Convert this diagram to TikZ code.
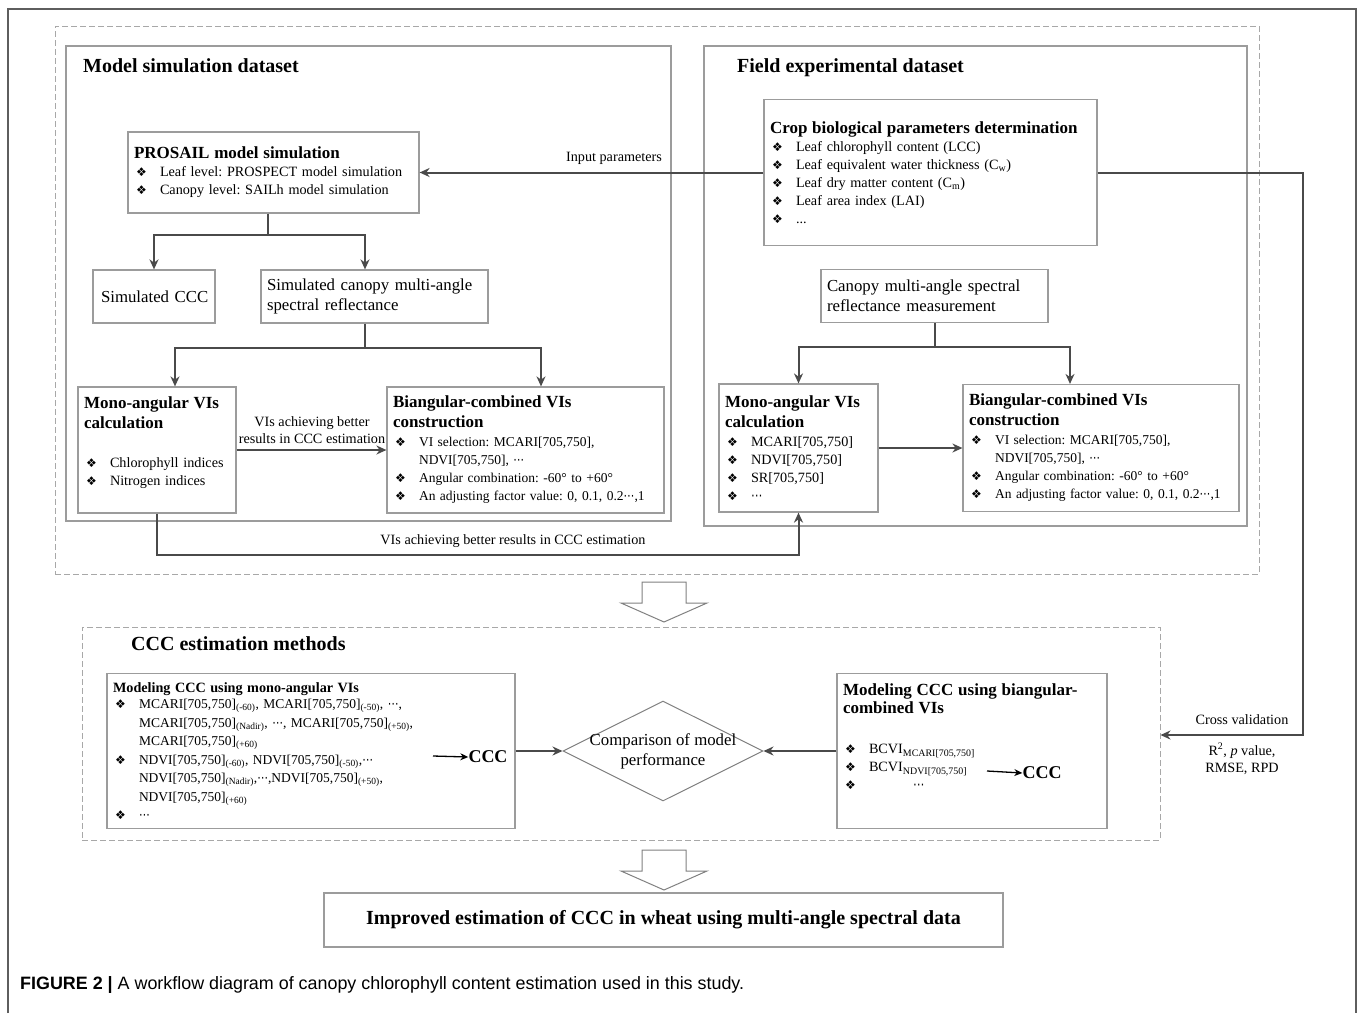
\documentclass[tikz,border=0pt]{standalone}
\usepackage{fontspec}
\setmainfont{Liberation Serif}
\newfontfamily\symf{DejaVu Sans}
\newfontfamily\capf{Liberation Sans}
\usetikzlibrary{arrows.meta,shapes.geometric}
\definecolor{boxgray}{HTML}{9C9C9C}
\definecolor{dashgray}{HTML}{A8A8A8}
\definecolor{linegray}{HTML}{4A4A4A}
\definecolor{framegray}{HTML}{5E5E5E}
\frenchspacing
\newcommand{\itm}{\makebox[26pt][l]{\hspace{2pt}{\symf\fontsize{12}{12}\selectfont ❖}}}
\newcommand{\cont}{\hspace*{26pt}}
\newcommand{\mdots}{{\symf\scalebox{0.8}[1]{⋯}}}
\newcommand{\boxtf}{\fontsize{17}{20}\selectfont\bfseries}

\begin{document}
\begin{tikzpicture}[x=1pt,y=-1pt,>={Stealth[length=10pt,width=9pt]},
  plainbox/.style={draw=boxgray,line width=1.2pt,fill=white,align=left,inner xsep=6pt,inner ysep=0pt,font=\fontsize{14.2}{18}\selectfont},
  dashframe/.style={draw=dashgray,line width=1pt,dash pattern=on 6pt off 3pt},
  solidframe/.style={draw=boxgray,line width=1.2pt},
  conn/.style={draw=linegray,line width=2pt},
  smallconn/.style={draw=black,line width=1.3pt,-{Stealth[length=8pt,width=7pt]}},
  sectitle/.style={font=\fontsize{20}{24}\selectfont\bfseries,inner sep=0pt,anchor=base west},
  lbl/.style={font=\fontsize{14.2}{17.5}\selectfont,align=center,inner sep=0pt},
  bigtxt/.style={font=\fontsize{16.8}{20}\selectfont},
  hollow/.style={draw=gray,fill=white,line width=1pt}]
\useasboundingbox (0,0) rectangle (1358,1013);
\draw[framegray,line width=1.5pt] (8,1013) -- (8,9) -- (1356,9) -- (1356,1013);

\node[dashframe,minimum width=1204,minimum height=548] (dataframe) at (657,300) {};
\node[solidframe,minimum width=605,minimum height=475] (msim) at (368.5,283.5) {};
\node[solidframe,minimum width=543,minimum height=480] (fexp) at (975.5,286) {};
\node[sectitle] (msimtitle) at (83,72) {Model simulation dataset};
\node[sectitle] (fexptitle) at (737,72) {Field experimental dataset};

\node[plainbox,text width=279,minimum height=81] (prosail) at (273.5,172.5)
  {{\boxtf PROSAIL model simulation}\\
   \itm Leaf level: PROSPECT model simulation\\
   \itm Canopy level: SAILh model simulation};
\node[plainbox,bigtxt,text width=110,minimum height=53] (simccc) at (154,296.5) {\hspace*{2pt}Simulated CCC};
\node[plainbox,bigtxt,text width=215,minimum height=53] (simcan) at (374.5,296.5)
  {Simulated canopy multi-angle\\spectral reflectance};
\node[plainbox,text width=146,minimum height=126] (monoL) at (157,450)
  {{\boxtf Mono-angular VIs}\\[2pt]
   {\boxtf calculation}\\[21pt]
   \itm Chlorophyll indices\\
   \itm Nitrogen indices\\ \mbox{}};
\node[plainbox,font=\fontsize{13.5}{18}\selectfont,text width=265,minimum height=126] (bioL) at (525.5,450)
  {{\boxtf Biangular-combined VIs}\\[2pt]
   {\boxtf construction}\\[1pt]
   \itm VI selection: MCARI[705,750],\\
   \cont NDVI[705,750], \mdots\\
   \itm Angular combination: -60° to +60°\\
   \itm An adjusting factor value: 0, 0.1, 0.2\mdots,1};

\node[plainbox,text width=321,minimum height=146] (crop) at (930.5,172.5)
  {{\boxtf Crop biological parameters determination}\\
   \itm Leaf chlorophyll content (LCC)\\
   \itm Leaf equivalent water thickness (C\textsubscript{w})\\
   \itm Leaf dry matter content (C\textsubscript{m})\\
   \itm Leaf area index (LAI)\\
   \itm ...};
\node[plainbox,bigtxt,text width=215,minimum height=53] (canmeas) at (934.5,296)
  {Canopy multi-angle spectral\\reflectance measurement};
\node[plainbox,text width=147,minimum height=128] (monoR) at (798.5,448)
  {{\boxtf Mono-angular VIs}\\[2pt]
   {\boxtf calculation}\\[1pt]
   \itm MCARI[705,750]\\
   \itm NDVI[705,750]\\
   \itm SR[705,750]\\
   \itm \mdots};
\node[plainbox,font=\fontsize{13.5}{18}\selectfont,text width=264,minimum height=127] (bioR) at (1101,448)
  {{\boxtf Biangular-combined VIs}\\[2pt]
   {\boxtf construction}\\[1pt]
   \itm VI selection: MCARI[705,750],\\
   \cont NDVI[705,750], \mdots\\
   \itm Angular combination: -60° to +60°\\
   \itm An adjusting factor value: 0, 0.1, 0.2\mdots,1};

\draw[conn,->] (crop.west) -- (prosail.east);
\node[lbl] (inlbl) at (614,158) {Input parameters};
\coordinate (psplit) at (268,235);
\draw[conn] (psplit |- prosail.south) -- (psplit);
\draw[conn,->] (psplit) -| (simccc.north);
\draw[conn,->] (psplit) -| ([xshift=-9.5pt]simcan.north);
\coordinate (ssplit) at (365,348);
\draw[conn] (ssplit |- simcan.south) -- (ssplit);
\draw[conn,->] (ssplit) -| ([xshift=18pt]monoL.north);
\draw[conn,->] (ssplit) -| ([xshift=15.5pt]bioL.north);
\draw[conn,->] (monoL.east) -- (bioL.west);
\node[lbl] (vislbl) at (312,430) {VIs achieving better\\results in CCC estimation};
\coordinate (msplit) at (934.5,347);
\draw[conn] (canmeas.south) -- (msplit);
\draw[conn,->] (msplit) -| (monoR.north);
\draw[conn,->] (msplit) -| ([xshift=-31pt]bioR.north);
\draw[conn,->] (monoR.east) -- (bioR.west);
\draw[conn,->] (monoL.south) -- ++(0,41) -| (monoR.south);
\node[lbl] (vislbl2) at (513,541) {VIs achieving better results in CCC estimation};

\draw[hollow] (642,582) -- (686,582) -- (686,603) -- (707,603) -- (664,622) -- (621,603) -- (642,603) -- cycle;

\node[dashframe,minimum width=1078,minimum height=213] (cccframe) at (621,733.5) {};
\node[sectitle] (ccctitle) at (131,650) {CCC estimation methods};
\node[plainbox,font=\fontsize{13.5}{18.5}\selectfont,text width=396,minimum height=155] (monomod) at (311,751)
  {{\fontsize{14.2}{17}\selectfont\bfseries Modeling CCC using mono-angular VIs}\\[-2pt]
   \itm MCARI[705,750]\textsubscript{(-60)}, MCARI[705,750]\textsubscript{(-50)}, \mdots,\\
   \cont MCARI[705,750]\textsubscript{(Nadir)}, \mdots, MCARI[705,750]\textsubscript{(+50)},\\
   \cont MCARI[705,750]\textsubscript{(+60)}\\
   \itm NDVI[705,750]\textsubscript{(-60)}, NDVI[705,750]\textsubscript{(-50)},\mdots\\
   \cont NDVI[705,750]\textsubscript{(Nadir)},\mdots,NDVI[705,750]\textsubscript{(+50)},\\
   \cont NDVI[705,750]\textsubscript{(+60)}\\
   \itm \mdots};
\node[font=\fontsize{18}{20}\selectfont\bfseries,inner sep=0pt] (cccA) at (488,757) {CCC};
\coordinate (cccAin) at (433,756);
\draw[smallconn] (cccAin) -- (cccA.west);
\node[diamond,draw=gray,line width=1pt,minimum width=200,minimum height=100,inner sep=0pt] (cmp) at (663,751) {};
\node[bigtxt,align=center] (cmptxt) at (663,751) {Comparison of model\\performance};
\node[plainbox,text width=258,minimum height=155] (biamod) at (972,751)
  {{\boxtf Modeling CCC using biangular-}\\
   {\boxtf combined VIs}\\[22pt]
   \itm BCVI\textsubscript{MCARI[705,750]}\\
   \itm BCVI\textsubscript{NDVI[705,750]}\\
   \itm\hspace*{44pt}\mdots\\[10pt] \mbox{}};
\node[font=\fontsize{18}{20}\selectfont\bfseries,inner sep=0pt] (cccB) at (1042,773) {CCC};
\coordinate (cccBin) at (987,771);
\draw[smallconn] (cccBin) -- (cccB.west);
\draw[conn,->] (monomod.east) -- (cmp.west);
\draw[conn,->] (biamod.west) -- (cmp.east);

\coordinate (cvturn) at (1303,735);
\draw[conn,->] (crop.east) -| (cvturn) -- (cvturn -| cccframe.east);
\node[lbl] (cvlbl) at (1242,720) {Cross validation};
\node[lbl] (statlbl) at (1242,759) {R\textsuperscript{2}, \textit{p} value,\\RMSE, RPD};

\draw[hollow] (642,850) -- (686,850) -- (686,871) -- (707,871) -- (664,890) -- (621,871) -- (642,871) -- cycle;
\node[plainbox,minimum width=679,minimum height=54,align=center,font=\fontsize{20}{24}\selectfont\bfseries] (final) at (663.5,920)
  {Improved estimation of CCC in wheat using multi-angle spectral data};

\node[anchor=west,inner sep=0pt,font=\capf\fontsize{17.9}{20}\selectfont] (caption) at (20,985)
  {\textbf{FIGURE 2} \textbf{|} A workflow diagram of canopy chlorophyll content estimation used in this study.};
\end{tikzpicture}
\end{document}
